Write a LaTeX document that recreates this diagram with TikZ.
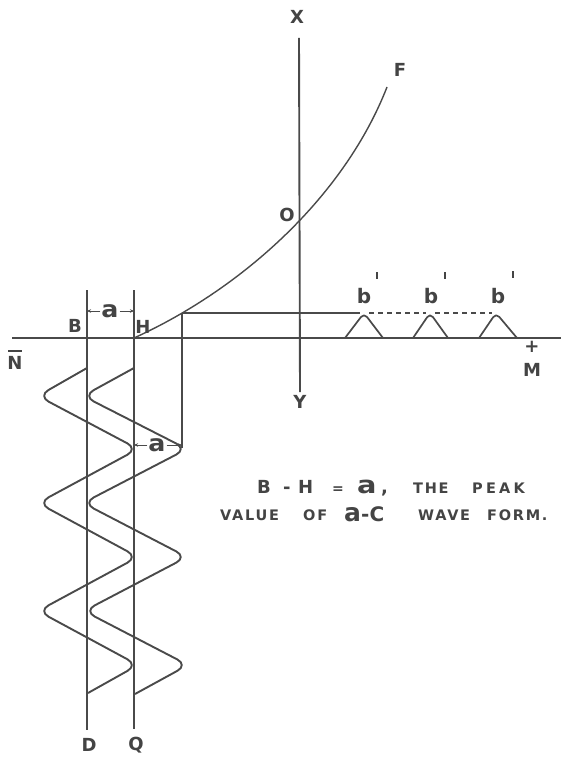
\documentclass[tikz,border=0pt]{standalone}
\usepackage{fontspec}
\usepackage{graphicx}
\setmainfont{DejaVu Sans}
\usetikzlibrary{arrows.meta}
\definecolor{ink}{HTML}{4a4a4a}
\definecolor{txt}{HTML}{444444}
\begin{document}
\begin{tikzpicture}[x=1pt,y=-1pt,
  thinln/.style={draw=ink,line width=1.1pt},
  axisln/.style={draw=ink,line width=1.9pt},
  curveln/.style={draw=ink,line width=1.4pt},
  waveln/.style={draw=ink,line width=1.9pt,rounded corners=12pt,line join=round},
  peakln/.style={draw=ink,line width=1.7pt,rounded corners=5pt,line join=round},
  dashln/.style={draw=ink,line width=1.5pt,dash pattern=on 5pt off 4pt},
  lbl/.style={text=txt,inner sep=0pt,font=\fontsize{18}{18}\selectfont\bfseries},
  big/.style={text=txt,inner sep=0pt,anchor=base west,font=\fontsize{18}{18}\selectfont\bfseries},
  sm/.style={text=txt,inner sep=0pt,anchor=base west,font=\fontsize{14.5}{14.5}\selectfont\bfseries\addfontfeature{LetterSpace=12}},
  biga/.style={text=txt,inner sep=0pt,anchor=base west,font=\fontsize{24}{24}\selectfont\bfseries},
  alab/.style={text=txt,inner sep=1pt,font=\fontsize{23}{23}\selectfont\bfseries},
  prm/.style={draw=txt,line width=2pt},
  tip/.style={-{Stealth[length=4pt,width=3.5pt]},draw=ink,line width=0.9pt}
]
\useasboundingbox (0,0) rectangle (561,759);
\fill[white] (0,0) rectangle (561,759);

% key points
\coordinate (Bt) at (87,290);  \coordinate (Bb) at (87,730);
\coordinate (Ht) at (134,290); \coordinate (Hb) at (134,729);
\coordinate (H)  at (134,338);
\coordinate (Ct) at (182,313); \coordinate (Cb) at (182,448);
\coordinate (Nl) at (12,338);  \coordinate (Mr) at (561,338);
\coordinate (Xt) at (299,38);  \coordinate (Yb) at (300,392);
\coordinate (Fe) at (387,87);
\coordinate (P1) at (364,313); \coordinate (P2) at (430,313); \coordinate (P3) at (496,313);

% axes
\draw[axisln] (Nl) -- (Mr);
\draw[axisln] (Xt) -- (Yb);

% vertical construction lines
\draw[thinln] (Bt) -- (Bb);
\draw[thinln] (Ht) -- (Hb);
\draw[thinln] (Ct) -- (Cb);

% characteristic curve
\draw[curveln] (H) .. controls (244,288) and (345,195) .. (Fe);

% horizontal projection and pulses
\draw[thinln,line width=1.2pt] (Ct) -- ([xshift=-4pt]P1);
\draw[peakln] (345,338) -- (P1) -- (383,338);
\draw[peakln] (413,338) -- (P2) -- (448,338);
\draw[peakln] (479,338) -- (P3) -- (517,338);
\draw[dashln] ([xshift=5pt]P1) -- ([xshift=-4pt]P2);
\draw[dashln] ([xshift=5pt]P2) -- ([xshift=-4pt]P3);

% waves
\draw[waveln] (87,368) -- (38,396) -- (138,449) -- (38,503) -- (138,557) -- (38,611) -- (138,665) -- (88,693);
\draw[waveln] (134,368) -- (83,396) -- (187,449) -- (83,503) -- (187,557) -- (84,611) -- (188,665) -- (135,694);

% axis labels
\node[lbl] (X) at (297,17) {X};
\node[lbl] (Y) at (300,402) {Y};
\node[lbl] (F) at (400,70) {F};
\node[lbl] (O) at (287,215) {O};
\node[lbl] (N) at (15,363) {N};
\draw[prm,line width=1.6pt] ([yshift=5pt,xshift=1pt]N.north west) -- ([yshift=5pt,xshift=-1pt]N.north east);
\node[lbl] (plus) at (532,347) {+};
\node[lbl] (M) at (532,370) {M};
\node[lbl] (B) at (75,326) {B};
\node[lbl] (Hl) at (143,327) {H};
\node[lbl] (D) at (89,745) {D};
\node[lbl] (Q) at (136,745) {Q};

% b' labels
\node[lbl,font=\fontsize{20}{20}\selectfont\bfseries] (b1) at (364,296) {b};
\node[lbl,font=\fontsize{20}{20}\selectfont\bfseries] (b2) at (431,296) {b};
\node[lbl,font=\fontsize{20}{20}\selectfont\bfseries] (b3) at (498,296) {b};
\draw[prm] (377,272) -- (377,279);
\draw[prm] (445,272) -- (445,279);
\draw[prm] (513,271) -- (513,278);

% a dimension labels
\node[alab] (a1) at (110,311) {\scalebox{1.1}[1]{a}};
\draw[tip] (a1.west) -- (a1.west -| Bt);
\draw[tip] (a1.east) -- (a1.east -| Ht);
\node[alab] (a2) at (157,445) {\scalebox{1.1}[1]{a}};
\draw[tip] (a2.west) -- (a2.west -| Ht);
\draw[tip] (a2.east) -- (a2.east -| Ct);

% caption line 1
\node[big] (t1) at (257,493) {B};
\node[big] (t2) at (283,493) {-};
\node[big] (t3) at (298,493) {H};
\node[big,font=\fontsize{14}{14}\selectfont\bfseries] (t4) at (332,493) {=};
\node[biga] (t5) at (357,493) {\scalebox{1.2}[1]{a}};
\node[big] (t6) at (381,493) {,};
\node[sm] (t7) at (413,493) {THE};
\node[sm,font=\fontsize{14.5}{14.5}\selectfont\bfseries\addfontfeature{LetterSpace=22}] (t8) at (472,493) {PEAK};
% caption line 2
\node[sm] (u1) at (220,520) {VALUE};
\node[sm] (u2) at (303,520) {OF};
\node[biga,font=\fontsize{25}{25}\selectfont\bfseries] (u3) at (344,521) {a};
\node[big,font=\fontsize{20}{20}\selectfont\bfseries] (u4) at (361,521) {-C};
\node[sm] (u5) at (418,520) {WAVE};
\node[sm] (u6) at (487,520) {FORM.};
\end{tikzpicture}
\end{document}
